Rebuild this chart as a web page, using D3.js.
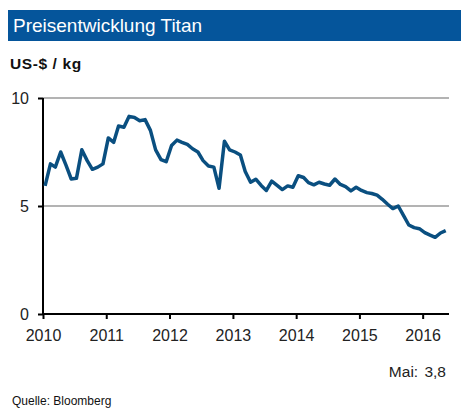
<!DOCTYPE html>
<html>
<head>
<meta charset="utf-8">
<script src="https://cdn.jsdelivr.net/npm/d3@7"></script>
<style>
  body { margin: 0; background: #fff; }
  text { font-family: "Liberation Sans", Arial, sans-serif; }
</style>
</head>
<body>
<div id="chart"></div>
<script>
// monthly prices, Jan 2010 .. May 2016 (US-$ / kg)
const prices = [
  5.93, 6.95, 6.8, 7.5, 6.9, 6.25, 6.28, 7.6, 7.1, 6.7, 6.8, 6.95,
  8.15, 7.95, 8.7, 8.65, 9.15, 9.1, 8.95, 9.0, 8.5, 7.6, 7.15, 7.05,
  7.8, 8.05, 7.95, 7.85, 7.65, 7.5, 7.1, 6.85, 6.8, 5.82, 8.0, 7.6,
  7.5, 7.36, 6.6, 6.1, 6.24, 5.95, 5.72, 6.15, 5.95, 5.76, 5.93, 5.87,
  6.4, 6.32, 6.08, 5.98, 6.1, 6.02, 5.96, 6.25, 6.0, 5.9, 5.7, 5.87,
  5.72, 5.62, 5.58, 5.5, 5.31, 5.08, 4.88, 5.0, 4.55, 4.12, 4.0, 3.95,
  3.77, 3.65, 3.55, 3.75, 3.86
];
const startYear = 2010;
const yearTicks = [2010, 2011, 2012, 2013, 2014, 2015, 2016];
const valueTicks = [0, 5, 10];
const gridValues = [5, 10];
const lastLabel = "Mai: 3,8";

const width = 471, height = 416;
const months = prices.map((v, i) => new Date(startYear, i, 13));

const svg = d3.select("#chart")
  .append("svg")
  .attr("width", width)
  .attr("height", height);

svg.append("rect").attr("width", width).attr("height", height).attr("fill", "#fff");

// title bar
svg.append("rect")
  .attr("x", 8).attr("y", 10)
  .attr("width", 453).attr("height", 31)
  .attr("fill", "#05559b");
svg.append("text")
  .attr("x", 13).attr("y", 32)
  .attr("fill", "#fff")
  .style("font-size", "19px")
  .text("Preisentwicklung Titan");

svg.append("text")
  .attr("x", 10).attr("y", 69)
  .style("font-size", "15.5px")
  .style("font-weight", "bold")
  .attr("fill", "#111")
  .attr("letter-spacing", "0.6px")
  .text("US-$ / kg");

const x = d3.scaleTime()
  .domain([new Date(startYear, 0, 1), new Date(2016, 5, 1)])
  .range([43, 449]);
const y = d3.scaleLinear().domain([0, 10]).range([314, 98]);

// gridlines
svg.append("g")
  .selectAll("line")
  .data(gridValues)
  .enter()
  .append("line")
  .attr("x1", 43).attr("x2", 449)
  .attr("y1", (d) => y(d)).attr("y2", (d) => y(d))
  .attr("stroke", "#b3b3b3")
  .attr("stroke-width", 2);

// y axis
const yAxis = svg.append("g")
  .attr("transform", "translate(43,0)")
  .call(d3.axisLeft(y).tickValues(valueTicks).tickSize(5).tickPadding(9).tickFormat(d3.format("d")));
yAxis.select(".domain").attr("stroke", "#000").attr("stroke-width", 2)
  .attr("d", `M0,${y(10)}V${y(0)}`);
yAxis.selectAll(".tick line").attr("stroke", "#000").attr("stroke-width", 2);
yAxis.selectAll(".tick text")
  .style("font-size", "16px")
  .attr("fill", "#222")
  .attr("font-family", "Liberation Sans, Arial, sans-serif");

// x axis
const xAxis = svg.append("g")
  .attr("transform", `translate(0,${y(0)})`)
  .call(d3.axisBottom(x)
    .tickValues(yearTicks.map((yr) => new Date(yr, 0, 1)))
    .tickSize(5).tickPadding(11)
    .tickFormat(d3.timeFormat("%Y")));
xAxis.select(".domain").attr("stroke", "#000").attr("stroke-width", 2)
  .attr("d", `M${x.range()[0]},0H${x.range()[1]}`);
xAxis.selectAll(".tick line").attr("stroke", "#000").attr("stroke-width", 2);
xAxis.selectAll(".tick text")
  .style("font-size", "16px")
  .attr("fill", "#222")
  .attr("font-family", "Liberation Sans, Arial, sans-serif");

// price line
const line = d3.line()
  .x((d, i) => x(months[i]))
  .y((d) => y(d));
svg.append("path")
  .datum(prices)
  .attr("d", line)
  .attr("fill", "none")
  .attr("stroke", "#0a4f80")
  .attr("stroke-width", 3.5)
  .attr("stroke-linejoin", "round");

svg.append("text")
  .attr("x", 446).attr("y", 377)
  .attr("text-anchor", "end")
  .style("font-size", "15.5px")
  .attr("fill", "#222")
  .attr("word-spacing", "2px")
  .text(lastLabel);

svg.append("text")
  .attr("x", 12).attr("y", 405)
  .style("font-size", "12px")
  .attr("fill", "#111")
  .text("Quelle: Bloomberg");
</script>
</body>
</html>
